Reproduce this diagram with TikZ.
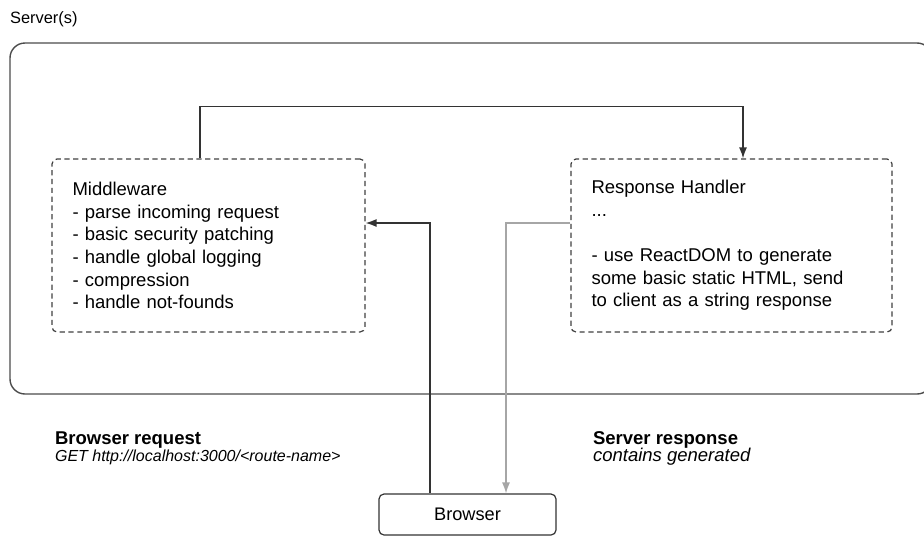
\documentclass[tikz,border=0pt]{standalone}
\usepackage{fontspec}
\setmainfont{Liberation Sans}
\usetikzlibrary{arrows.meta}

\begin{document}
\begin{tikzpicture}[
		x=0.5pt, y=-0.5pt,
		outer/.style={
			draw=black!70, line width=0.7pt, rectangle, rounded corners=7.5pt,
			minimum width=461pt, minimum height=175.5pt, inner sep=0pt
		},
		stage/.style={
			draw=black!75, line width=0.6pt, rectangle, rounded corners=2.5pt,
			dash pattern=on 2.6pt off 1.8pt,
			minimum height=86.5pt, align=left, inner xsep=10.25pt,
			font=\fontsize{9.25}{11.3}\selectfont
		},
		client/.style={
			draw=black!80, line width=0.6pt, rectangle, rounded corners=2.5pt,
			minimum width=88.5pt, minimum height=20.5pt,
			font=\fontsize{9.1}{11}\selectfont
		},
		flow/.style={line width=0.65pt, black!80, -{Latex[length=5.5pt,width=4pt]}},
		reply/.style={flow, black!35},
		]
		
		\useasboundingbox (0,0) rectangle (924,536);
		
		\node[anchor=west, font=\fontsize{8.2}{10}\selectfont] (title) at (3,19) {Server(s)};
		\node[outer] (server) at (471,218.5) {};
		
		\node[stage, text width=136pt] (mw) at (208.5,245.5) {Middleware\\
			- parse incoming request\\
			- basic security patching\\
			- handle global logging\\
			- compression\\
			- handle not-founds};
		\node[stage, text width=140pt] (rh) at (731.5,245.5) {Response Handler\\
			...\\
			\mbox{}\\
			- use ReactDOM to generate\\
			some basic static HTML, send\\
			to client as a string response};
		
		\node[client] (browser) at (467.5,514.5) {Browser};
		
		\node[anchor=west, font=\fontsize{9.25}{11}\selectfont\bfseries] (reqhead) at (48,440) {Browser request};
		\node[anchor=west, font=\fontsize{8}{9}\selectfont\itshape] (reqbody) at (48,457) {GET http://localhost:3000/<route-name>};
		\node[anchor=west, font=\fontsize{9.25}{11}\selectfont\bfseries] (reshead) at (586,440) {Server response};
		\node[anchor=west, font=\fontsize{9.25}{11}\selectfont\itshape] (resbody) at (586,457) {contains generated};
		
		\draw[flow] ([xshift=-4.25pt]mw.north) -- ++(0,-52) -| ([xshift=5.75pt]rh.north);
		\draw[flow] ([xshift=-18.75pt]browser.north) |- ([yshift=11.25pt]mw.east);
		\draw[reply] ([yshift=11.25pt]rh.west) -| ([xshift=19.25pt]browser.north);
		
	\end{tikzpicture}
\end{document}
